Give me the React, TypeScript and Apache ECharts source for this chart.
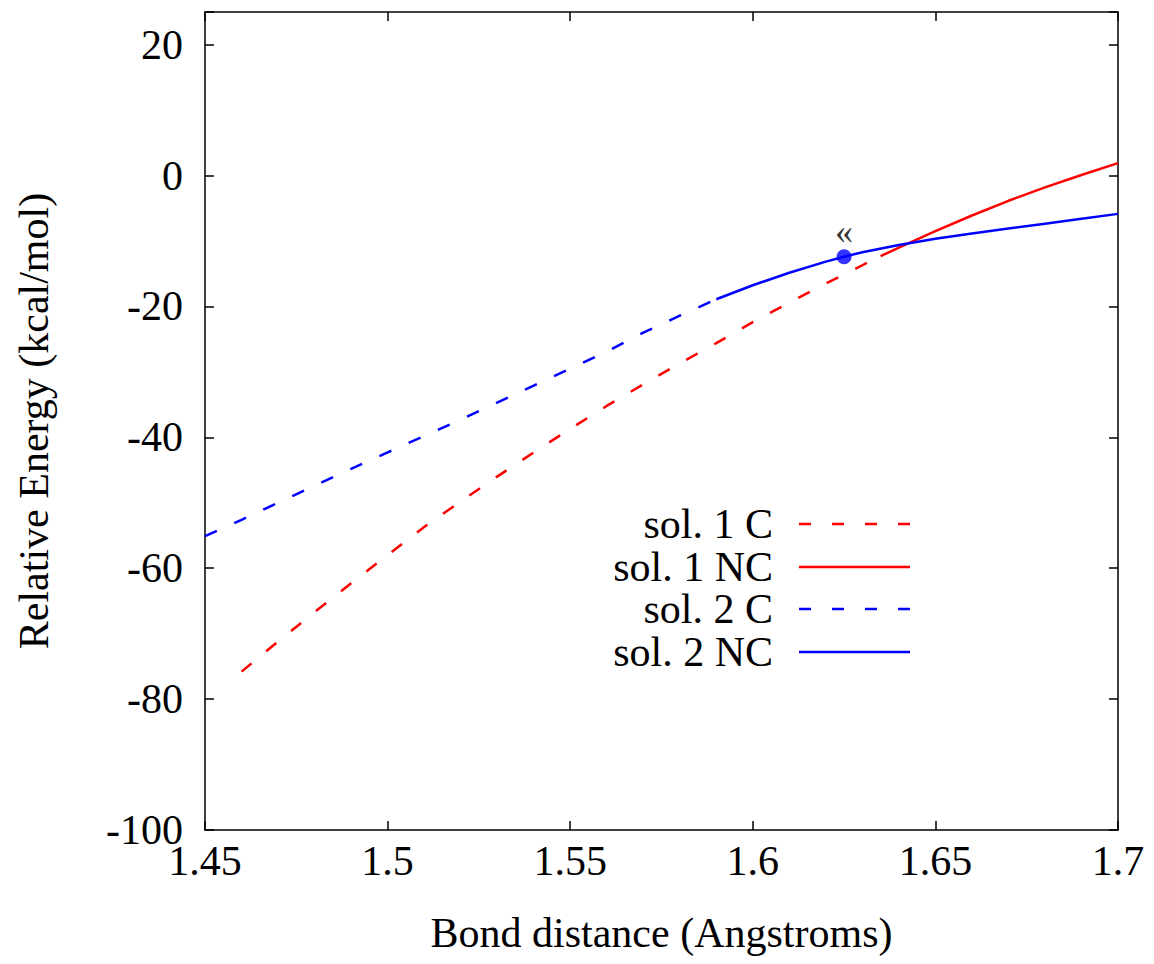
import React, { useEffect, useRef } from "react";
import * as echarts from "echarts";

// sol. 1 C (dashed red)
const sol1C: [number, number][] = [
  [1.46, -75.8], [1.47, -71.2], [1.48, -66.7], [1.49, -62.3], [1.5, -58.0],
  [1.51, -53.7], [1.52, -49.8], [1.53, -46.0], [1.54, -42.3], [1.55, -38.7],
  [1.56, -35.2], [1.57, -31.9], [1.58, -28.7], [1.59, -25.6], [1.6, -22.4],
  [1.61, -19.4], [1.62, -16.5], [1.63, -13.7], [1.635, -12.3],
];
// sol. 1 NC (solid red)
const sol1NC: [number, number][] = [
  [1.635, -12.3], [1.64, -11.0], [1.65, -8.5], [1.66, -6.1], [1.67, -3.85],
  [1.68, -1.8], [1.69, 0.1], [1.7, 1.9],
];
// sol. 2 C (dashed blue)
const sol2C: [number, number][] = [
  [1.45, -55.1], [1.46, -52.6], [1.47, -50.0], [1.48, -47.4], [1.49, -44.8],
  [1.5, -42.3], [1.51, -39.8], [1.52, -37.3], [1.53, -34.7], [1.54, -32.1],
  [1.55, -29.5], [1.56, -26.9], [1.57, -24.0], [1.58, -21.4], [1.59, -18.9],
];
// sol. 2 NC (solid blue)
const sol2NC: [number, number][] = [
  [1.59, -18.9], [1.6, -16.75], [1.61, -14.85], [1.62, -13.15], [1.625, -12.4],
  [1.63, -11.7], [1.64, -10.6], [1.65, -9.65], [1.66, -8.85], [1.67, -8.1],
  [1.68, -7.35], [1.69, -6.6], [1.7, -5.85],
];
const markedPoint: [number, number][] = [[1.625, -12.4]];
const markLabel = "«";

const legendNames = ["sol. 1 C", "sol. 1 NC", "sol. 2 C", "sol. 2 NC"];
const legendColors = ["#ff0000", "#ff0000", "#0000ff", "#0000ff"];
const legendDashed = [true, false, true, false];

const FONT = '"Liberation Serif", "Times New Roman", serif';

export default function App() {
  const ref = useRef<HTMLDivElement>(null);
  useEffect(() => {
    if (!ref.current) return;
    const chart = echarts.init(ref.current, undefined, { renderer: "svg" });
    const dash = [13, 19];
    const axisCommon = {
      type: "value" as const,
      axisLine: { show: true, onZero: false, lineStyle: { color: "#000", width: 1.5 } },
      axisTick: { show: true, inside: true, length: 9, lineStyle: { color: "#000", width: 1.5 } },
      splitLine: { show: false },
    };
    const legendGraphics: any[] = [];
    const rowY = [524, 567, 609, 652];
    legendNames.forEach((n, i) => {
      legendGraphics.push({
        type: "text",
        x: 773,
        y: rowY[i],
        style: {
          text: n,
          fill: "#000",
          font: `42px ${FONT}`,
          align: "right",
          verticalAlign: "middle",
        },
      });
      legendGraphics.push({
        type: "line",
        shape: { x1: 799, y1: rowY[i], x2: 910, y2: rowY[i] },
        style: {
          stroke: legendColors[i],
          lineWidth: 2.5,
          lineDash: legendDashed[i] ? [12, 21] : null,
        },
      });
    });
    chart.setOption({
      animation: false,
      backgroundColor: "#fff",
      textStyle: { fontFamily: FONT },
      grid: { left: 205, right: 36, top: 12, bottom: 134 },
      xAxis: [
        {
          ...axisCommon,
          position: "bottom",
          min: 1.45,
          max: 1.7,
          interval: 0.05,
          name: "Bond distance (Angstroms)",
          nameLocation: "middle",
          nameGap: 82,
          nameTextStyle: { fontSize: 42, color: "#000", fontFamily: FONT },
          axisLabel: {
            fontSize: 42,
            color: "#000",
            fontFamily: FONT,
            margin: 10,
            formatter: (v: number) => String(parseFloat(v.toFixed(2))),
          },
        },
        {
          ...axisCommon,
          position: "top",
          min: 1.45,
          max: 1.7,
          interval: 0.05,
          axisLabel: { show: false },
        },
      ],
      yAxis: [
        {
          ...axisCommon,
          position: "left",
          min: -100,
          max: 25,
          interval: 20,
          name: "Relative Energy (kcal/mol)",
          nameLocation: "middle",
          nameGap: 150,
          nameTextStyle: { fontSize: 42, color: "#000", fontFamily: FONT },
          axisLabel: {
            fontSize: 42,
            color: "#000",
            fontFamily: FONT,
            margin: 22,
            formatter: (v: number) => (v > 20 ? "" : String(Math.round(v))),
          },
        },
        {
          ...axisCommon,
          position: "right",
          min: -100,
          max: 25,
          interval: 20,
          axisLabel: { show: false },
        },
      ],
      series: [
        {
          name: legendNames[0],
          type: "line",
          data: sol1C,
          symbol: "none",
          lineStyle: { color: legendColors[0], width: 2.5, type: dash },
        },
        {
          name: legendNames[1],
          type: "line",
          data: sol1NC,
          symbol: "none",
          lineStyle: { color: legendColors[1], width: 2.5 },
        },
        {
          name: legendNames[2],
          type: "line",
          data: sol2C,
          symbol: "none",
          lineStyle: { color: legendColors[2], width: 2.5, type: dash },
        },
        {
          name: legendNames[3],
          type: "line",
          data: sol2NC,
          symbol: "none",
          lineStyle: { color: legendColors[3], width: 2.5 },
        },
        {
          type: "scatter",
          data: markedPoint,
          symbol: "circle",
          symbolSize: 15,
          itemStyle: { color: "#0000ff" },
          z: 5,
          label: {
            show: true,
            position: "top",
            distance: 0,
            formatter: () => markLabel,
            fontSize: 36,
            color: "#000",
            fontFamily: FONT,
          },
        },
      ],
      graphic: legendGraphics,
    });
    return () => chart.dispose();
  }, []);
  return <div ref={ref} style={{ width: 1154, height: 964, margin: -8 }} />;
}
